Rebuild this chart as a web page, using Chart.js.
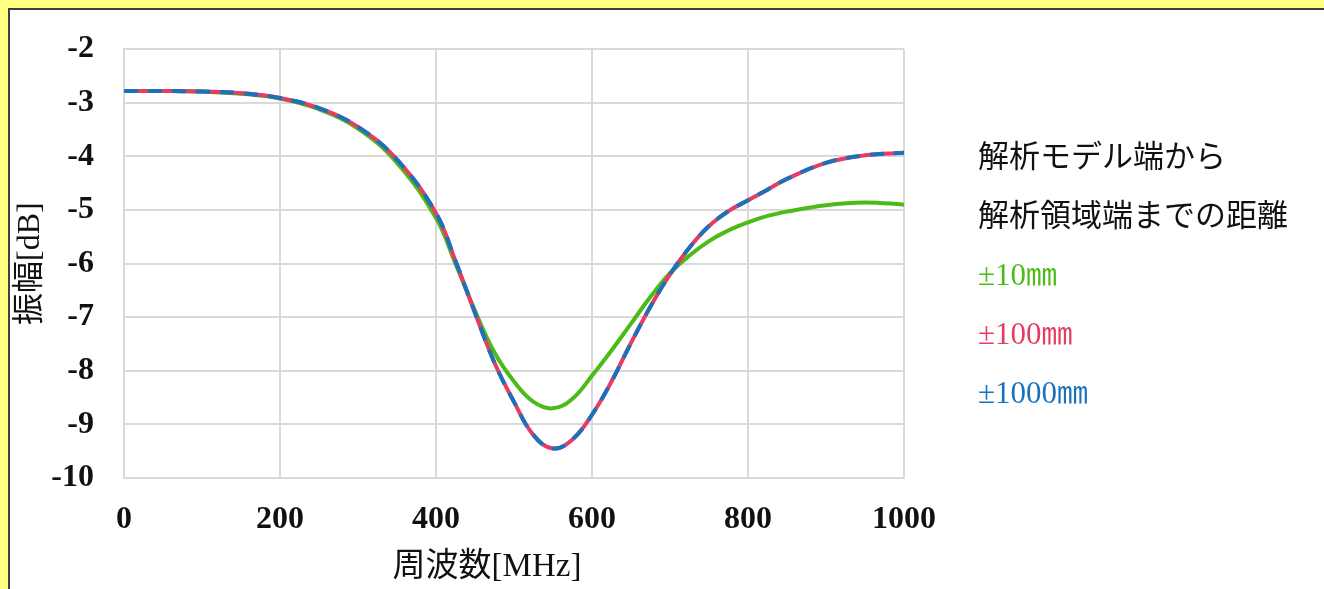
<!DOCTYPE html>
<html>
<head>
<meta charset="utf-8">
<script src="https://cdn.jsdelivr.net/npm/chart.js@4"></script>
<style>
  html, body { margin: 0; padding: 0; }
  body { width: 1324px; height: 589px; background: #ffff80; position: relative; overflow: hidden; }
  #panel { position: absolute; left: 8px; top: 8px; width: 1400px; height: 700px; background: #fff; border: 2px solid #404040; }
  #wrap { position: absolute; left: 0; top: 0; width: 1324px; height: 589px; }
  #legend { position: absolute; left: 978px; top: 127px; font-family: "Liberation Serif", "Noto Sans CJK JP", serif; font-size: 31px; line-height: 59px; white-space: nowrap; color: #111; }
</style>
</head>
<body>
<div id="panel"></div>
<div id="wrap"><canvas id="chart" width="1324" height="589"></canvas></div>
<div id="legend">
  <div>解析モデル端から</div>
  <div>解析領域端までの距離</div>
  <div style="color:#4cbb17">±10㎜</div>
  <div style="color:#e33d63">±100㎜</div>
  <div style="color:#1a72bd">±1000㎜</div>
</div>
<script>
// frequency [MHz]
const freq = [0, 50, 100, 150, 200, 250, 300, 350, 400, 425, 450, 475, 500, 525, 550, 575, 600, 625, 650, 675, 700, 725, 750, 775, 800, 825, 850, 900, 950, 1000];
// amplitude [dB]
const amp10 = [-2.78, -2.78, -2.79, -2.83, -2.92, -3.12, -3.48, -4.12, -5.15, -6.00, -6.88, -7.66, -8.20, -8.58, -8.70, -8.52, -8.09, -7.62, -7.12, -6.62, -6.18, -5.85, -5.58, -5.38, -5.23, -5.11, -5.03, -4.91, -4.86, -4.90];
const amp100 = [-2.78, -2.78, -2.79, -2.82, -2.91, -3.10, -3.45, -4.06, -5.06, -5.95, -6.92, -7.85, -8.58, -9.20, -9.45, -9.28, -8.82, -8.20, -7.48, -6.80, -6.20, -5.70, -5.30, -5.02, -4.82, -4.62, -4.42, -4.12, -3.98, -3.93];
const amp1000 = amp100.slice();
const xTicks = [0, 200, 400, 600, 800, 1000];
const yTicks = [-2, -3, -4, -5, -6, -7, -8, -9, -10];

const serif = '"Liberation Serif", "Noto Sans CJK JP", serif';

function pts(ys) {
  return freq.map((f, i) => ({ x: f, y: ys[i] }));
}

const xTitle = {
  id: "xTitle",
  afterDraw(chart) {
    const { ctx, chartArea } = chart;
    ctx.save();
    ctx.font = "33px " + serif;
    ctx.fillStyle = "#111";
    ctx.textAlign = "center";
    ctx.textBaseline = "middle";
    ctx.fillText("周波数[MHz]", (chartArea.left + chartArea.right) / 2 - 27, 567);
    ctx.restore();
  }
};

new Chart(document.getElementById("chart"), {
  type: "line",
  data: {
    datasets: [
      { label: "±10㎜", data: pts(amp10), borderColor: "#4cbb17", borderWidth: 4, order: 2 },
      { label: "±100㎜", data: pts(amp100), borderColor: "#e33d63", borderWidth: 4, order: 1 },
      { label: "±1000㎜", data: pts(amp1000), borderColor: "#1a72bd", borderWidth: 4, borderDash: [14, 10], order: 0 }
    ]
  },
  options: {
    responsive: false,
    animation: false,
    events: [],
    layout: { padding: { top: 46, right: 420, left: 0, bottom: 0 } },
    elements: { point: { radius: 0 }, line: { tension: 0.4 } },
    plugins: { legend: { display: false }, tooltip: { enabled: false } },
    scales: {
      x: {
        type: "linear",
        min: 0, max: 1000,
        afterBuildTicks: s => { s.ticks = xTicks.map(v => ({ value: v })); },
        afterFit: s => { s.height = 111; },
        grid: { color: "#d9d9d9", lineWidth: 2, drawTicks: false },
        border: { color: "#d9d9d9", width: 2 },
        ticks: { color: "#111", padding: 23, maxRotation: 0, callback: v => String(v), font: { family: serif, size: 32, weight: "bold" } }
      },
      y: {
        type: "linear",
        min: -10, max: -2,
        afterBuildTicks: s => { s.ticks = yTicks.map(v => ({ value: v })); },
        afterFit: s => { s.width = 124; },
        grid: { color: "#d9d9d9", lineWidth: 2, drawTicks: false },
        border: { color: "#d9d9d9", width: 2 },
        ticks: { color: "#111", padding: 30, callback: v => String(v), font: { family: serif, size: 32, weight: "bold" } },
        title: { display: true, text: "振幅[dB]", color: "#111", padding: { top: 11 }, font: { family: serif, size: 32 } }
      }
    }
  },
  plugins: [xTitle]
});
</script>
</body>
</html>
